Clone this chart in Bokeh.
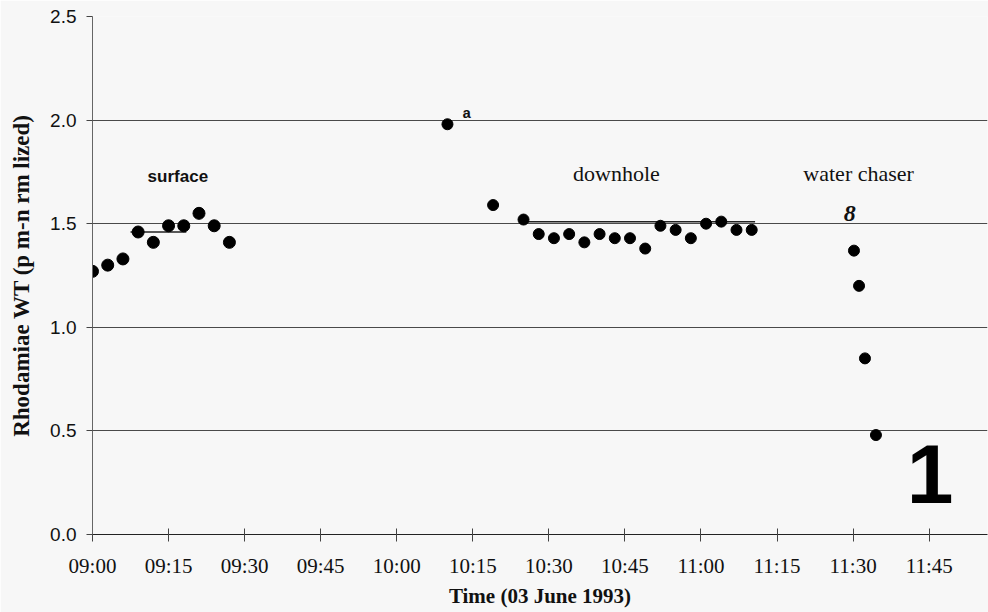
from bokeh.plotting import figure
from bokeh.models import FixedTicker, Label, PrintfTickFormatter
from bokeh.embed import file_html
from bokeh.resources import INLINE


def minutes(t):
    """Minutes after 09:00 for a clock string HH:MM or HH:MM:SS."""
    parts = [int(s) for s in t.split(":")]
    sec = parts[2] if len(parts) > 2 else 0
    return (parts[0] - 9) * 60 + parts[1] + sec / 60.0


# ---- data ----
surface_times = ["09:00", "09:03", "09:06", "09:09", "09:12",
                 "09:15", "09:18", "09:21", "09:24", "09:27"]
surface_values = [1.27, 1.30, 1.33, 1.46, 1.41, 1.49, 1.49, 1.55, 1.49, 1.41]

downhole_times = ["10:10", "10:19", "10:25", "10:28", "10:31", "10:34",
                  "10:37", "10:40", "10:43", "10:46", "10:49", "10:52",
                  "10:55", "10:58", "11:01", "11:04", "11:07", "11:10"]
downhole_values = [1.98, 1.59, 1.52, 1.45, 1.43, 1.45, 1.41, 1.45, 1.43,
                   1.43, 1.38, 1.49, 1.47, 1.43, 1.50, 1.51, 1.47, 1.47]

chaser_times = ["11:30:10", "11:31:10", "11:32:20", "11:34:30"]
chaser_values = [1.37, 1.20, 0.85, 0.48]

mean_starts = ["09:07:30", "10:25:30"]
mean_ends = ["09:18:30", "11:10:40"]
mean_values = [1.46, 1.51]

tick_labels = ["09:00", "09:15", "09:30", "09:45", "10:00", "10:15",
               "10:30", "10:45", "11:00", "11:15", "11:30", "11:45"]
y_ticks = [0.0, 0.5, 1.0, 1.5, 2.0, 2.5]

x_start, x_end = "09:00", "11:56:30"

# ---- figure ----
BG = "#f7f7f7"
p = figure(width=988, height=612,
           x_range=(minutes(x_start), minutes(x_end)),
           y_range=(y_ticks[0], y_ticks[-1]),
           output_backend="svg", toolbar_location=None,
           min_border_left=92, min_border_right=1,
           min_border_top=16, min_border_bottom=78)
p.background_fill_color = BG
p.border_fill_color = BG
p.outline_line_color = None

p.xgrid.visible = False
p.ygrid.grid_line_color = "#4a4a4a"
p.ygrid.grid_line_width = 1

# x axis
tick_pos = [minutes(t) for t in tick_labels]
p.xaxis.ticker = FixedTicker(ticks=tick_pos)
p.xaxis.major_label_overrides = {m: t for m, t in zip(tick_pos, tick_labels)}
p.xaxis.axis_line_color = "#222222"
p.xaxis.major_tick_line_color = "#444444"
p.xaxis.major_tick_in = 6
p.xaxis.major_tick_out = 7
p.xaxis.minor_tick_line_color = None
p.xaxis.major_label_text_font = "Liberation Serif"
p.xaxis.major_label_text_font_size = "21px"
p.xaxis.major_label_text_color = "#111111"
p.xaxis.major_label_standoff = 12
p.xaxis.axis_label = "Time (03 June 1993)"
p.xaxis.axis_label_text_font = "Liberation Serif"
p.xaxis.axis_label_text_font_style = "bold"
p.xaxis.axis_label_text_font_size = "21px"
p.xaxis.axis_label_text_color = "#111111"
p.xaxis.axis_label_standoff = 3

# y axis
p.yaxis.ticker = FixedTicker(ticks=y_ticks)
p.yaxis.formatter = PrintfTickFormatter(format="%.1f")
p.yaxis.axis_line_color = "#666666"
p.yaxis.major_tick_line_color = "#444444"
p.yaxis.major_tick_in = 0
p.yaxis.major_tick_out = 6
p.yaxis.minor_tick_line_color = None
p.yaxis.major_label_text_font = "Liberation Sans"
p.yaxis.major_label_text_font_size = "19px"
p.yaxis.major_label_text_color = "#111111"
p.yaxis.major_label_standoff = 10
p.yaxis.axis_label = "Rhodamiae WT (p m-n rm lized)"
p.yaxis.axis_label_text_font = "Liberation Serif"
p.yaxis.axis_label_text_font_style = "bold"
p.yaxis.axis_label_text_font_size = "23px"
p.yaxis.axis_label_text_color = "#111111"
p.yaxis.axis_label_standoff = 13

# mean lines
p.segment(x0=[minutes(t) for t in mean_starts], y0=mean_values,
          x1=[minutes(t) for t in mean_ends], y1=mean_values,
          line_color="#222222", line_width=1.5)

# points
p.scatter([minutes(t) for t in surface_times], surface_values,
          marker="circle", size=12, color="black")
p.scatter([minutes(t) for t in downhole_times], downhole_values,
          marker="circle", size=11, color="black")
p.scatter([minutes(t) for t in chaser_times], chaser_values,
          marker="circle", size=11, color="black")

# annotations
p.add_layout(Label(x=minutes("09:16:50"), y=1.73, text="surface",
                   text_font="Liberation Sans", text_font_style="bold",
                   text_font_size="17px", text_align="center",
                   text_baseline="alphabetic", text_color="#111111"))
p.add_layout(Label(x=minutes("10:43:20"), y=1.74, text="downhole",
                   text_font="Liberation Serif", text_font_size="22px",
                   text_align="center", text_baseline="alphabetic",
                   text_color="#111111"))
p.add_layout(Label(x=minutes("11:31:05"), y=1.74, text="water chaser",
                   text_font="Liberation Serif", text_font_size="22px",
                   text_align="center", text_baseline="alphabetic",
                   text_color="#111111"))
p.add_layout(Label(x=minutes("11:29:20"), y=1.55, text="8",
                   text_font="Liberation Serif", text_font_style="bold italic",
                   text_font_size="24px", text_align="center",
                   text_baseline="alphabetic", text_color="#111111"))
p.add_layout(Label(x=minutes("10:12:55"), y=2.025, text="a",
                   text_font="Liberation Mono", text_font_style="bold",
                   text_font_size="15px", text_align="left",
                   text_baseline="alphabetic", text_color="#111111"))
p.add_layout(Label(x=minutes("11:45:10"), y=0.29, text="1",
                   text_font="Liberation Sans", text_font_style="bold",
                   text_font_size="84px", text_align="center",
                   text_baseline="alphabetic", text_color="#000000"))

open("out.html", "w").write(file_html(p, INLINE))
